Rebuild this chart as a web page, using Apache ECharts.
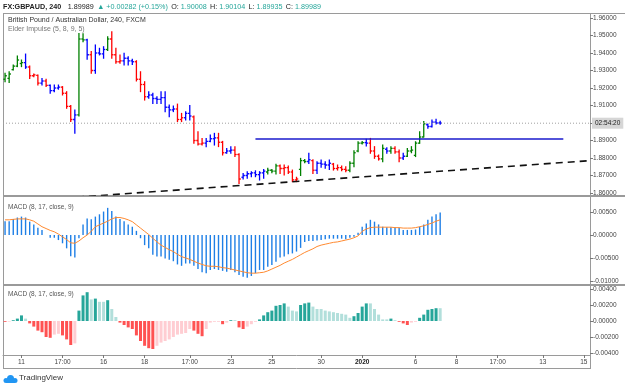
<!DOCTYPE html>
<html><head><meta charset="utf-8">
<script src="https://cdn.jsdelivr.net/npm/echarts@6/dist/echarts.min.js"></script>
<style>html,body{margin:0;padding:0;background:#fff}#c{width:625px;height:388px}</style>
</head><body><div id="c"></div>
<script>
// ---------- data ----------
const slotCount = 143; // bar slots on the time axis (incl. future space)
const tickSlots  = [4, 14, 24, 34, 45, 55, 65, 77, 87, 100, 110, 120, 131, 141];
const tickLabels = ['11','17:00','16','18','17:00','23','25','30','2020','6','8','17:00','13','15'];

const opens = [1.9250,1.9255,1.9305,1.9325,1.9340,1.9345,1.9320,1.9270,1.9272,1.9228,1.9240,1.9215,1.9185,1.9200,1.9205,1.9170,1.9095,1.9020,1.9046,1.9480,
1.9475,1.9390,1.9300,1.9400,1.9395,1.9420,1.9480,1.9390,1.9350,1.9355,1.9370,1.9355,1.9350,1.9250,1.9220,1.9150,1.9160,1.9140,1.9135,1.9145,
1.9090,1.9075,1.9080,1.9020,1.9030,1.9055,1.9035,1.8900,1.8880,1.8885,1.8895,1.8910,1.8915,1.8890,1.8830,1.8840,1.8845,1.8820,1.8690,1.8700,
1.8710,1.8715,1.8705,1.8715,1.8720,1.8730,1.8725,1.8755,1.8740,1.8745,1.8720,1.8675,1.8735,1.8785,1.8780,1.8785,1.8730,1.8770,1.8765,1.8760,
1.8765,1.8740,1.8745,1.8735,1.8730,1.8770,1.8840,1.8885,1.8888,1.8885,1.8840,1.8810,1.8795,1.8850,1.8840,1.8855,1.8835,1.8800,1.8810,1.8840,
1.8815,1.8885,1.8920,1.8990,1.8980,1.9005,1.90008];
const highs = [1.9284,1.9293,1.9331,1.9383,1.9360,1.9394,1.9326,1.9280,1.9275,1.9255,1.9250,1.9217,1.9217,1.9217,1.9208,1.9179,1.9100,1.9074,1.9512,1.9510,
1.9478,1.9408,1.9446,1.9427,1.9436,1.9493,1.9522,1.9427,1.9389,1.9398,1.9379,1.9364,1.9356,1.9293,1.9236,1.9179,1.9170,1.9150,1.9179,1.9179,
1.9103,1.9097,1.9108,1.9055,1.9065,1.9100,1.9040,1.8950,1.8912,1.8912,1.8931,1.8941,1.8941,1.8895,1.8855,1.8865,1.8865,1.8825,1.8712,1.8722,
1.8722,1.8727,1.8722,1.8735,1.8741,1.8735,1.8764,1.8760,1.8760,1.8754,1.8731,1.8690,1.8798,1.8792,1.8827,1.8790,1.8779,1.8788,1.8779,1.8788,
1.8769,1.8760,1.8754,1.8750,1.8779,1.8842,1.8893,1.8895,1.8907,1.8912,1.8865,1.8817,1.8874,1.8858,1.8865,1.8865,1.8846,1.8827,1.8855,1.8865,
1.8893,1.8950,1.9008,1.8995,1.9017,1.9021,1.90104];
const lows = [1.9236,1.9231,1.9303,1.9322,1.9322,1.9312,1.9255,1.9265,1.9217,1.9217,1.9208,1.9170,1.9179,1.9193,1.9160,1.9084,1.9008,1.8941,1.9040,1.9465,
1.9364,1.9284,1.9284,1.9389,1.9370,1.9415,1.9370,1.9341,1.9341,1.9331,1.9331,1.9335,1.9240,1.9179,1.9131,1.9141,1.9112,1.9112,1.9112,1.9065,
1.9036,1.9065,1.9008,1.9008,1.9017,1.9017,1.8884,1.8874,1.8874,1.8865,1.8893,1.8874,1.8865,1.8817,1.8827,1.8827,1.8808,1.8655,1.8680,1.8684,
1.8693,1.8693,1.8674,1.8684,1.8708,1.8716,1.8708,1.8712,1.8703,1.8712,1.8665,1.8665,1.8700,1.8773,1.8769,1.8712,1.8712,1.8747,1.8741,1.8735,
1.8731,1.8731,1.8727,1.8722,1.8722,1.8750,1.8836,1.8880,1.8869,1.8827,1.8798,1.8788,1.8779,1.8827,1.8827,1.8827,1.8779,1.8792,1.8808,1.8830,
1.8808,1.8884,1.8920,1.8970,1.8977,1.8995,1.89935];
const closes = [1.9270,1.9280,1.9325,1.9360,1.9345,1.9320,1.9270,1.9275,1.9228,1.9240,1.9215,1.9185,1.9200,1.9205,1.9170,1.9095,1.9020,1.9046,1.9480,1.9475,
1.9390,1.9300,1.9400,1.9395,1.9420,1.9480,1.9390,1.9350,1.9355,1.9370,1.9355,1.9350,1.9250,1.9220,1.9150,1.9160,1.9140,1.9135,1.9145,1.9090,
1.9075,1.9080,1.9020,1.9030,1.9055,1.9040,1.8900,1.8880,1.8885,1.8895,1.8910,1.8915,1.8890,1.8830,1.8840,1.8845,1.8820,1.8680,1.8700,1.8710,
1.8715,1.8705,1.8715,1.8725,1.8730,1.8725,1.8755,1.8740,1.8745,1.8720,1.8675,1.8680,1.8785,1.8780,1.8790,1.8730,1.8770,1.8765,1.8760,1.8770,
1.8740,1.8745,1.8735,1.8730,1.8770,1.8830,1.8885,1.8888,1.8885,1.8840,1.8810,1.8795,1.8855,1.8840,1.8855,1.8835,1.8800,1.8810,1.8840,1.8845,
1.8885,1.8920,1.8995,1.8980,1.9005,1.9000,1.89989];
// Elder impulse state: 1 bullish (green), -1 bearish (red), 0 neutral (blue)
const impulse = [1,1,1,1,1,0,-1,-1,-1,0,-1,0,0,0,-1,-1,-1,0,1,1,
0,-1,0,0,0,1,-1,-1,-1,0,0,0,-1,-1,-1,0,0,0,0,0,
0,0,-1,-1,0,0,-1,-1,-1,0,0,0,-1,-1,0,0,-1,-1,0,0,
0,0,0,0,1,1,1,-1,-1,-1,-1,-1,1,1,0,-1,0,0,0,0,
-1,-1,-1,-1,1,1,1,1,0,-1,-1,-1,1,0,1,-1,-1,0,1,1,
1,1,1,0,0,0,0];

// MACD pane 1 (MACD line as histogram) and signal line
const macdLine = [0.0030,0.0030,0.0035,0.0038,0.0040,0.0038,0.0029,0.0023,0.0016,0.0011,0.0000,-0.0006,-0.0006,-0.0011,-0.0018,-0.0029,-0.0046,-0.0049,-0.0007,0.0023,
0.0036,0.0034,0.0040,0.0045,0.0051,0.0059,0.0052,0.0040,0.0035,0.0030,0.0023,0.0018,0.0009,-0.0007,-0.0022,-0.0029,-0.0043,-0.0047,-0.0047,-0.0051,
-0.0054,-0.0057,-0.0064,-0.0067,-0.0062,-0.0062,-0.0067,-0.0074,-0.0081,-0.0083,-0.0076,-0.0074,-0.0076,-0.0078,-0.0080,-0.0076,-0.0081,-0.0087,-0.0091,-0.0093,
-0.0089,-0.0083,-0.0076,-0.0076,-0.0069,-0.0065,-0.0058,-0.0049,-0.0047,-0.0042,-0.0040,-0.0036,-0.0028,-0.0015,-0.0013,-0.0013,-0.0012,-0.0011,-0.0009,-0.0008,
-0.0008,-0.0008,-0.0008,-0.0009,-0.0006,-0.0004,0.0005,0.0018,0.0025,0.0033,0.0029,0.0023,0.0018,0.0017,0.0017,0.0017,0.0016,0.0011,0.0011,0.0011,
0.0012,0.0018,0.0023,0.0033,0.0040,0.0045,0.0049];
const signalLine = [0.0033,0.0033,0.0034,0.0035,0.0035,0.0035,0.0033,0.0030,0.0024,0.0018,0.0014,0.0010,0.0007,0.0002,-0.0004,-0.0010,-0.0017,-0.0018,-0.0013,-0.0006,
0.0000,0.0008,0.0018,0.0022,0.0026,0.0030,0.0035,0.0038,0.0038,0.0036,0.0033,0.0029,0.0022,0.0015,0.0008,0.0001,-0.0007,-0.0015,-0.0022,-0.0027,
-0.0032,-0.0036,-0.0042,-0.0047,-0.0050,-0.0053,-0.0057,-0.0061,-0.0064,-0.0067,-0.0068,-0.0068,-0.0069,-0.0071,-0.0072,-0.0074,-0.0076,-0.0078,-0.0080,-0.0082,
-0.0083,-0.0083,-0.0082,-0.0081,-0.0078,-0.0074,-0.0070,-0.0066,-0.0061,-0.0057,-0.0053,-0.0048,-0.0043,-0.0038,-0.0034,-0.0030,-0.0025,-0.0022,-0.0020,-0.0018,
-0.0016,-0.0015,-0.0013,-0.0011,-0.0009,-0.0006,-0.0002,0.0008,0.0013,0.0016,0.0017,0.0017,0.0017,0.0017,0.0017,0.0016,0.0016,0.0015,0.0015,0.0015,
0.0016,0.0018,0.0020,0.0023,0.0026,0.0030,0.0033];
// MACD pane 2 histogram
const macdHist = [-0.0001,-0.00008,0.0001,0.0003,0.0007,0.0003,-0.0003,-0.0007,-0.0012,-0.0014,-0.0020,-0.0021,-0.0017,-0.0016,-0.0018,-0.0023,-0.0030,-0.0028,0.0013,0.0032,
0.0036,0.0027,0.0028,0.0024,0.0024,0.0026,0.0015,0.0005,-0.0002,-0.0005,-0.0008,-0.0010,-0.0018,-0.0025,-0.0031,-0.0034,-0.0035,-0.0031,-0.0027,-0.0025,
-0.0023,-0.0020,-0.0017,-0.0016,-0.0015,-0.0010,-0.0012,-0.0016,-0.0019,-0.0010,-0.0002,-0.0001,-0.0001,-0.0004,-0.0002,0.0001,0.0001,-0.0008,-0.0010,-0.0007,
-0.0004,-0.0001,0.0002,0.0007,0.0011,0.0013,0.0019,0.0020,0.0022,0.0018,0.0013,0.0012,0.0020,0.0022,0.0023,0.0018,0.0015,0.0015,0.0013,0.0012,
0.0011,0.0010,0.0009,0.0008,0.0004,0.0006,0.0010,0.0018,0.0022,0.0022,0.0015,0.0008,0.0002,0.0002,0.0003,0.0001,-0.0001,-0.0003,-0.0005,-0.0002,
-0.0001,0.0004,0.0008,0.0014,0.0015,0.0016,0.0016];

const resistanceLevel = 1.8909;
const resistanceSlots = [61, 136];
const trendLine = [[14.6, 1.85714], [142.5, 1.87851]];
const lastPrice = 1.89989;
const countdown = '02:54:20';
const change = '+0.00282 (+0.15%)';
const priceTicks = [1.86,1.87,1.88,1.89,1.90,1.91,1.92,1.93,1.94,1.95,1.96];
const macdTicks = [0.005, 0, -0.005, -0.01];
const histTicks = [0.004, 0.002, 0, -0.002, -0.004];

// ---------- chart ----------
const FONT = '"Liberation Sans", Arial, sans-serif';
const chart = echarts.init(document.getElementById('c'), null, {renderer: 'canvas'});
const labelMap = {};
tickSlots.forEach((s, k) => labelMap[s] = tickLabels[k]);
const n = opens.length;
const ohlcData = opens.map((o, i) => [i, o, closes[i], lows[i], highs[i], impulse[i]]);
const impulseColor = v => v > 0 ? '#008000' : (v < 0 ? '#ff0000' : '#0000ff');
const histData = macdHist.map((v, i) => {
  const prev = i > 0 ? macdHist[i - 1] : 0;
  const c = v >= 0 ? (v > prev ? '#26a69a' : '#b2dfdb') : (v < prev ? '#ff5252' : '#ffcdd2');
  return {value: [i, v], itemStyle: {color: c}};
});
const last = n - 1;
const f5 = v => v.toFixed(5);

const xAxisBase = g => ({
  type: 'value', gridIndex: g, min: -0.5, max: slotCount - 0.5,
  show: g === 2, splitLine: {show: false},
  axisLine: {show: true, onZero: false, lineStyle: {color: '#9a9a9a', width: 1}},
  axisTick: {show: true, length: 3, customValues: tickSlots, lineStyle: {color: '#777'}},
  axisLabel: {
    customValues: tickSlots, margin: 4, fontSize: 6.5, color: '#444', fontFamily: FONT,
    formatter: v => { const t = labelMap[Math.round(v)] || ''; return t === '2020' ? '{b|2020}' : t; },
    rich: {b: {fontWeight: 'bold', fontSize: 6.5, color: '#222', fontFamily: FONT}}
  }
});
const yAxisBase = (g, min, max, ticks) => ({
  type: 'value', gridIndex: g, position: 'right', min: min, max: max,
  splitLine: {show: false}, axisLine: {show: false, onZero: false},
  axisTick: {show: true, length: 3, customValues: ticks, lineStyle: {color: '#777'}},
  axisLabel: {customValues: ticks, formatter: f5, fontSize: 6.5, color: '#444', margin: 3, fontFamily: FONT}
});

const option = {
  animation: false,
  backgroundColor: '#ffffff',
  grid: [
    {left: 3, width: 587, top: 14, height: 181, containLabel: false},
    {left: 3, width: 587, top: 197, height: 87, containLabel: false},
    {left: 3, width: 587, top: 286, height: 69, containLabel: false}
  ],
  xAxis: [xAxisBase(0), xAxisBase(1), xAxisBase(2)],
  yAxis: [
    yAxisBase(0, 1.86 - 2 / 1750, 1.96 + 4 / 1750, priceTicks),
    yAxisBase(1, -49 / 4600, 38 / 4600, macdTicks),
    yAxisBase(2, -34 / 8000, 35 / 8000, histTicks)
  ],
  series: [
    {
      type: 'custom', xAxisIndex: 0, yAxisIndex: 0, data: ohlcData, clip: true,
      encode: {x: 0, y: [1, 2, 3, 4]},
      renderItem: (params, api) => {
        const x = api.value(0);
        const pO = api.coord([x, api.value(1)]);
        const pC = api.coord([x, api.value(2)]);
        const pL = api.coord([x, api.value(3)]);
        const pH = api.coord([x, api.value(4)]);
        const w = api.size([1, 0])[0] * 0.42;
        const col = impulseColor(api.value(5));
        const st = {stroke: col, lineWidth: 1.3};
        return {type: 'group', children: [
          {type: 'line', shape: {x1: pH[0], y1: pH[1] - 0.5, x2: pL[0], y2: pL[1] + 0.5}, style: st},
          {type: 'line', shape: {x1: pO[0] - w, y1: pO[1], x2: pO[0], y2: pO[1]}, style: st},
          {type: 'line', shape: {x1: pC[0], y1: pC[1], x2: pC[0] + w, y2: pC[1]}, style: st}
        ]};
      }
    },
    {
      type: 'line', xAxisIndex: 0, yAxisIndex: 0, symbol: 'none', silent: true,
      data: [[-0.5, lastPrice], [slotCount - 0.5, lastPrice]],
      lineStyle: {color: '#a0a0a0', width: 1, type: [1, 2]},
      endLabel: {show: true, formatter: countdown, distance: 2, fontSize: 6.5, color: '#222',
        backgroundColor: '#d6d6d6', padding: [2, 3, 2, 3], fontFamily: FONT}
    },
    {
      type: 'line', xAxisIndex: 0, yAxisIndex: 0, symbol: 'none', silent: true,
      data: resistanceSlots.map(s => [s, resistanceLevel]),
      lineStyle: {color: '#1a1acc', width: 1.5}
    },
    {
      type: 'line', xAxisIndex: 0, yAxisIndex: 0, symbol: 'none', silent: true,
      data: trendLine, lineStyle: {color: '#111', width: 1.6, type: [7, 5]}
    },
    {
      type: 'bar', xAxisIndex: 1, yAxisIndex: 1, barWidth: 1.4, silent: true,
      data: macdLine.map((v, i) => [i, v]), itemStyle: {color: '#1e7fe6'}
    },
    {
      type: 'line', xAxisIndex: 1, yAxisIndex: 1, symbol: 'none', silent: true,
      data: signalLine.map((v, i) => [i, v]), lineStyle: {color: '#ff8a30', width: 1}
    },
    {
      type: 'bar', xAxisIndex: 2, yAxisIndex: 2, barWidth: 3, silent: true, data: histData
    }
  ],
  graphic: [
    // frame & separators
    {type: 'line', shape: {x1: 3, y1: 13.5, x2: 625, y2: 13.5}, style: {stroke: '#9a9a9a', lineWidth: 1}},
    {type: 'line', shape: {x1: 3.5, y1: 13, x2: 3.5, y2: 369}, style: {stroke: '#9a9a9a', lineWidth: 1}},
    {type: 'line', shape: {x1: 590.5, y1: 13, x2: 590.5, y2: 369}, style: {stroke: '#9a9a9a', lineWidth: 1}},
    {type: 'line', shape: {x1: 3, y1: 196, x2: 625, y2: 196}, style: {stroke: '#9a9a9a', lineWidth: 2}},
    {type: 'line', shape: {x1: 3, y1: 285, x2: 625, y2: 285}, style: {stroke: '#9a9a9a', lineWidth: 2}},
    {type: 'line', shape: {x1: 3, y1: 368.5, x2: 590, y2: 368.5}, style: {stroke: '#9a9a9a', lineWidth: 1}},
    // header
    {type: 'text', x: 3, y: 1.5, style: {
      text: '{b|FX:GBPAUD, 240}  {a|' + f5(closes[last]) + '} {g|▲ ' + change + '} {a|O:}{g| ' + f5(opens[last]) +
        '} {a|H:}{g| ' + f5(highs[last]) + '} {a|L:}{g| ' + f5(lows[last]) + '} {a|C:}{g| ' + f5(closes[last]) + '}',
      rich: {
        b: {fill: '#222', fontSize: 7.2, fontWeight: 'bold', fontFamily: FONT},
        a: {fill: '#222', fontSize: 7.2, fontFamily: FONT},
        g: {fill: '#26a69a', fontSize: 7.2, fontFamily: FONT}
      }}},
    // pane titles
    {type: 'text', x: 8, y: 17, style: {text: 'British Pound / Australian Dollar, 240, FXCM', fill: '#333', fontSize: 7, fontFamily: FONT}},
    {type: 'text', x: 8, y: 26, style: {text: 'Elder Impulse (5, 8, 9, 5)', fill: '#777', fontSize: 7, fontFamily: FONT}},
    {type: 'text', x: 8, y: 204, style: {text: 'MACD (8, 17, close, 9)', fill: '#555', fontSize: 6.5, fontFamily: FONT}},
    {type: 'text', x: 8, y: 291, style: {text: 'MACD (8, 17, close, 9)', fill: '#555', fontSize: 6.5, fontFamily: FONT}},
    // TradingView logo
    {type: 'group', children: [
      {type: 'circle', shape: {cx: 6, cy: 380.5, r: 2.5}, style: {fill: '#2196f3'}},
      {type: 'circle', shape: {cx: 10.5, cy: 378.5, r: 3.5}, style: {fill: '#2196f3'}},
      {type: 'circle', shape: {cx: 15, cy: 380.5, r: 2.5}, style: {fill: '#2196f3'}},
      {type: 'rect', shape: {x: 6, y: 379, width: 9, height: 4}, style: {fill: '#2196f3'}}
    ]},
    {type: 'text', x: 19, y: 374, style: {text: 'TradingView', fill: '#333', fontSize: 8, fontFamily: FONT}}
  ]
};
chart.setOption(option);
</script>
</body></html>
